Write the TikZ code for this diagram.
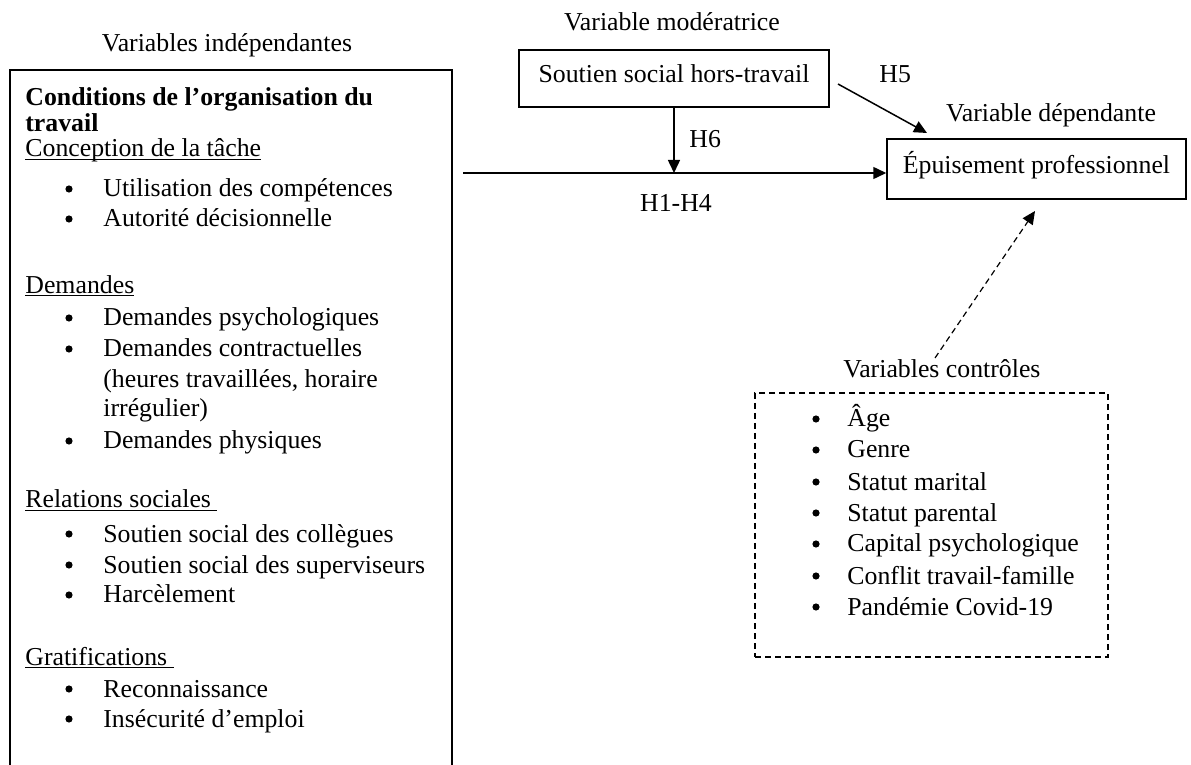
\documentclass[tikz,border=0pt]{standalone}
\usepackage{fontspec}
\setmainfont{Liberation Serif}
\usetikzlibrary{arrows.meta}
\newcommand\ulin[1]{\setbox0\hbox{#1}\rlap{\rule[-1.6pt]{\wd0}{0.55pt}}\box0}
\begin{document}
\begin{tikzpicture}[x=0.5pt,y=-0.5pt,
  every node/.style={font=\fontsize{12.9}{15}\selectfont, inner sep=0pt},
  txt/.style={anchor=base west},
  ctr/.style={anchor=base},
  bul/.style={circle, fill=black, minimum size=3.6pt, anchor=center},
  frame/.style={draw, line width=0.75pt},
  dframe/.style={draw, line width=0.6pt, dash pattern=on 3pt off 2pt},
  arr/.style={line width=0.75pt, -{Triangle[length=6.5pt,width=6pt]}},
  darr/.style={line width=0.6pt, dash pattern=on 3pt off 2pt, -{Triangle[length=6.5pt,width=6pt]}}
]
\useasboundingbox (0,0) rectangle (1191,765);

% titles
\node[ctr] (tind) at (227,52) {Variables indépendantes};
\node[ctr] (tmod) at (672,31) {Variable modératrice};
\node[ctr] (tdep) at (1051,122) {Variable dépendante};
\node[ctr] (tcon) at (942,378) {Variables contrôles};

% left box (open at the bottom, continues past the page)
\draw[line width=0.75pt] (10,775) -- (10,70) -- (452,70) -- (452,775);

\node[txt] (c1) at (25,106) {\bfseries Conditions de l’organisation du};
\node[txt] (c2) at (25,132) {\bfseries travail};
\node[txt] (h1) at (25,157) {\ulin{Conception de la tâche}};
\node[bul] (b1) at (69,189) {};
\node[txt] (i1) at (103,197) {Utilisation des compétences};
\node[bul] (b2) at (69,219) {};
\node[txt] (i2) at (103,227) {Autorité décisionnelle};

\node[txt] (h2) at (25,293) {\ulin{Demandes}};
\node[bul] (b3) at (69,318) {};
\node[txt] (i3) at (103,326) {Demandes psychologiques};
\node[bul] (b4) at (69,349) {};
\node[txt] (i4) at (103,357) {Demandes contractuelles};
\node[txt] (i4b) at (103,387) {(heures travaillées, horaire};
\node[txt] (i4c) at (103,416) {irrégulier)};
\node[bul] (b5) at (69,441) {};
\node[txt] (i5) at (103,449) {Demandes physiques};

\node[txt] (h3) at (25,508) {\ulin{Relations sociales\ }};
\node[bul] (b6) at (69,534) {};
\node[txt] (i6) at (103,542) {Soutien social des collègues};
\node[bul] (b7) at (69,565) {};
\node[txt] (i7) at (103,573) {Soutien social des superviseurs};
\node[bul] (b8) at (69,595) {};
\node[txt] (i8) at (103,603) {Harcèlement};

\node[txt] (h4) at (25,665) {\ulin{Gratifications\ }};
\node[bul] (b9) at (69,689) {};
\node[txt] (i9) at (103,697) {Reconnaissance};
\node[bul] (b10) at (69,719) {};
\node[txt] (i10) at (103,727) {Insécurité d’emploi};

% moderator box
\node[frame, minimum width=155pt, minimum height=28.5pt] (sout) at (674,78.5) {};
\node[ctr] (souttxt) at (674,83) {Soutien social hors-travail};

% dependent box
\node[frame, minimum width=149.5pt, minimum height=30pt] (epu) at (1036.5,169) {};
\node[ctr] (eputxt) at (1036.5,174) {Épuisement professionnel};

% control box
\node[dframe, minimum width=176.5pt, minimum height=132pt] (ctrl) at (931.5,525) {};
\foreach \y/\t [count=\k] in {427/Âge, 458/Genre, 490/Statut marital, 521/Statut parental, 552/Capital psychologique, 584/Conflit travail-famille, 615/Pandémie Covid-19}{
  \node[bul] (cb\k) at (816,\y-8) {};
  \node[txt] (ct\k) at (847,\y) {\t};
}

% connectors
\coordinate (hstart) at (463,173);
\coordinate (hmid) at (674,173);
\draw[arr] (hstart) -- (epu.west |- hstart);
\draw[arr] (sout.south) -- (hmid);
\coordinate (h5s) at (838,84);
\coordinate (h5e) at (927,133);
\draw[arr] (h5s) -- (h5e);
\coordinate (cs) at (935,358);
\coordinate (ce) at (1035,211);
\draw[darr] (cs) -- (ce);

% labels
\node[txt] (lh6) at (689,148) {H6};
\node[ctr] (lh14) at (676,212) {H1-H4};
\node[txt] (lh5) at (879,83) {H5};
\end{tikzpicture}
\end{document}
